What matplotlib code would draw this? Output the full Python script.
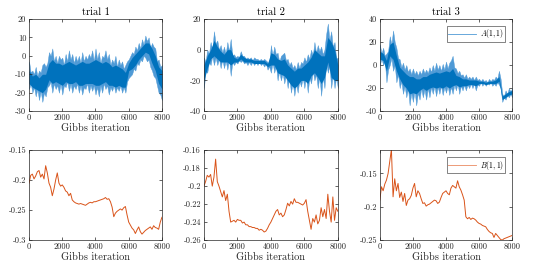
import numpy as np
import matplotlib
matplotlib.use('Agg')
import matplotlib.pyplot as plt
from matplotlib.ticker import FuncFormatter

plt.rcParams['font.family'] = ['cmr10', 'DejaVu Sans']
plt.rcParams['mathtext.fontset'] = 'cm'
plt.rcParams['axes.unicode_minus'] = False

# trace of A(1,1): outer spread of the samples (every 100 iterations)
a_iters = list(range(0, 8001, 100))
# dense core of the samples (every 200 iterations)
a_core_iters = list(range(0, 8001, 200))

a1_hi = [-3, -9, -8, -10, -6, -11, -8, -9, -5, -4,
         -6, -4, 2, 0, 4, -3, 0, -4, 0, -2,
         -1, -5, 1, -3, 3, -2, 1, -4, 0, -3,
         0, -4, 2, -3, 0, -2, 1, -1, 3, -3,
         4, -2, 2, -4, 0, -1, 3, -2, 1, -5,
         -2, -4, 0, -6, -2, -5, -3, -7, -5, -3,
         -2, 0, 2, 1, 5, 3, 7, 4, 9, 6,
         11, 8, 10, 4, 7, 5, 4, -3, -2, -6,
         -5]
a1_lo = [-18, -15, -20, -17, -22, -18, -24, -19, -25, -20,
         -22, -17, -16, -14, -20, -15, -18, -16, -20, -15,
         -21, -16, -17, -14, -19, -15, -20, -16, -18, -15,
         -20, -16, -21, -17, -18, -15, -20, -16, -19, -16,
         -21, -17, -22, -16, -20, -15, -18, -16, -21, -17,
         -19, -16, -20, -17, -19, -16, -20, -17, -20, -14,
         -12, -11, -10, -7, -8, -4, -5, -2, -3, 0,
         -1, -3, -2, -6, -8, -11, -12, -16, -20, -21,
         -24]
a1_core_hi = [-8, -11, -10, -12, -10, -10, -4, -2, -4, -4, -5, -4, -3, -4, -5,
              -4, -3, -4, -4, -3, -2, -3, -4, -3, -4, -6, -5, -6, -7, -9, -4,
              -1, 1, 3, 5, 7, 7, 4, 0, -6, -8]
a1_core_lo = [-15, -17, -18, -19, -20, -18, -13, -15, -14, -15, -16, -14, -15,
              -15, -14, -16, -16, -15, -15, -15, -16, -16, -15, -14, -16, -16,
              -17, -16, -17, -17, -8, -7, -5, -2, 0, 2, 1, -4, -8, -15, -18]

a2_hi = [-5, -8, 0, -3, 5, 0, 12, 4, 6, 0,
         3, -2, 2, -3, 5, -1, 7, -4, -3, -5,
         -4, -5, -1, -4, -4, -6, -5, -6, -5, -7,
         -5, -6, -6, -7, -6, -7, -6, -7, -8, -10,
         3, -4, 2, -3, -2, -8, -4, -3, -2, -7,
         -6, -10, -8, -12, -10, -13, -8, -12, -8, -9,
         -5, -8, -3, -6, 0, -4, 5, -2, 3, -1,
         2, -3, 0, 10, 17, 6, 12, 2, 5, -6,
         -5]
a2_lo = [-25, -14, -15, -8, -10, -4, -10, -5, -10, -6,
         -12, -6, -12, -7, -13, -6, -17, -8, -10, -8,
         -9, -7, -8, -7, -9, -8, -10, -8, -10, -8,
         -10, -8, -10, -8, -10, -9, -11, -9, -13, -11,
         -15, -8, -15, -10, -20, -14, -20, -15, -22, -16,
         -25, -18, -28, -21, -30, -22, -28, -20, -24, -18,
         -25, -17, -28, -18, -22, -14, -20, -16, -25, -17,
         -30, -18, -25, -8, -15, -10, -25, -16, -25, -18,
         -25]
a2_core_hi = [-10, -4, 0, 6, 2, -1, -3, 0, 0, -5, -6, -3, -5, -6, -6, -7, -7,
              -7, -7, -9, -2, -3, -6, -7, -6, -10, -12, -14, -12, -12, -10, -8,
              -5, 0, -2, -4, -4, 8, 5, 0, -10]
a2_core_lo = [-20, -12, -6, -4, -6, -8, -8, -8, -10, -8, -8, -6, -8, -8, -8,
              -9, -9, -9, -9, -11, -10, -10, -15, -16, -17, -20, -23, -25, -23,
              -20, -20, -22, -17, -15, -18, -22, -18, -8, -18, -20, -20]

a3_hi = [18, 10, 15, 8, 10, 12, 25, 18, 30, 20,
         15, 6, 5, -2, 2, -4, 0, -6, -3, -8,
         -3, -8, -5, -9, -5, -8, -3, -7, -4, -7,
         -2, -6, 0, -5, 2, -4, 0, -5, 1, -4,
         3, -3, 2, 4, 8, -2, -3, -7, -5, -9,
         -8, -11, -8, -12, -10, -12, -10, -13, -10, -13,
         -12, -14, -12, -14, -13, -15, -12, -14, -12, -13,
         -10, -12, -5, -12, -25, -27, -22, -25, -20, -23,
         -20]
a3_lo = [0, 6, 0, 4, -15, -4, 0, 6, -5, 0,
         -15, -8, -20, -14, -25, -18, -28, -20, -35, -24,
         -32, -22, -35, -24, -30, -20, -28, -21, -30, -20,
         -28, -19, -25, -18, -27, -19, -25, -18, -26, -19,
         -24, -18, -26, -19, -25, -17, -22, -16, -25, -18,
         -22, -17, -22, -17, -20, -16, -20, -16, -22, -17,
         -18, -15, -18, -15, -18, -16, -17, -15, -18, -16,
         -18, -15, -17, -20, -32, -28, -30, -26, -28, -25,
         -28]
a3_core_hi = [12, 10, 4, 18, 20, 8, -2, -5, -8, -10, -10, -12, -12, -10, -10,
              -8, -7, -6, -7, -6, -5, -6, -3, -9, -10, -12, -12, -13, -13, -13,
              -14, -14, -15, -14, -14, -13, -10, -27, -25, -23, -22]
a3_core_lo = [5, 4, -5, 8, 5, -5, -12, -17, -20, -25, -24, -25, -22, -20, -22,
              -20, -19, -20, -19, -20, -18, -20, -18, -17, -19, -18, -18, -17,
              -17, -18, -16, -16, -17, -16, -16, -16, -14, -30, -28, -26, -25]

# trace of B(1,1), read every 100 iterations
b_iters = list(range(0, 8001, 100))

b1 = [-0.205, -0.192, -0.19, -0.198, -0.193, -0.186, -0.184, -0.195, -0.19,
      -0.198, -0.176, -0.188, -0.205, -0.212, -0.226, -0.215, -0.2, -0.188,
      -0.205, -0.21, -0.208, -0.212, -0.218, -0.22, -0.226, -0.222, -0.233,
      -0.236, -0.238, -0.239, -0.24, -0.239, -0.24, -0.241, -0.242, -0.24,
      -0.238, -0.237, -0.238, -0.236, -0.236, -0.235, -0.234, -0.233, -0.232,
      -0.231, -0.229, -0.232, -0.231, -0.236, -0.245, -0.261, -0.255, -0.252,
      -0.25, -0.248, -0.25, -0.246, -0.244, -0.258, -0.27, -0.275, -0.28,
      -0.283, -0.289, -0.283, -0.278, -0.286, -0.29, -0.287, -0.284, -0.282,
      -0.28, -0.278, -0.282, -0.276, -0.279, -0.28, -0.282, -0.27, -0.262]

b2 = [-0.2, -0.195, -0.188, -0.19, -0.187, -0.2, -0.19, -0.17, -0.195, -0.2,
      -0.206, -0.212, -0.205, -0.216, -0.209, -0.228, -0.24, -0.239, -0.238,
      -0.24, -0.237, -0.238, -0.238, -0.241, -0.24, -0.243, -0.243, -0.245,
      -0.245, -0.246, -0.246, -0.247, -0.247, -0.249, -0.248, -0.249, -0.251,
      -0.25, -0.247, -0.243, -0.24, -0.236, -0.232, -0.228, -0.226, -0.232,
      -0.23, -0.234, -0.232, -0.226, -0.219, -0.222, -0.217, -0.22, -0.214,
      -0.218, -0.218, -0.219, -0.22, -0.221, -0.219, -0.215, -0.228, -0.238,
      -0.248, -0.236, -0.24, -0.232, -0.242, -0.238, -0.224, -0.234, -0.226,
      -0.236, -0.209, -0.228, -0.24, -0.212, -0.238, -0.224, -0.228]

b3 = [-0.19, -0.17, -0.176, -0.166, -0.16, -0.15, -0.132, -0.114, -0.185,
      -0.158, -0.176, -0.165, -0.186, -0.178, -0.192, -0.18, -0.198, -0.19,
      -0.188, -0.183, -0.172, -0.165, -0.185, -0.176, -0.18, -0.188, -0.195,
      -0.194, -0.199, -0.197, -0.196, -0.194, -0.192, -0.19, -0.191, -0.195,
      -0.193, -0.186, -0.18, -0.178, -0.176, -0.18, -0.182, -0.172, -0.168,
      -0.17, -0.172, -0.161, -0.17, -0.175, -0.182, -0.19, -0.215, -0.218,
      -0.216, -0.219, -0.217, -0.218, -0.22, -0.223, -0.225, -0.226, -0.228,
      -0.229, -0.23, -0.234, -0.237, -0.239, -0.24, -0.246, -0.24, -0.243,
      -0.246, -0.249, -0.25, -0.248, -0.247, -0.246, -0.245, -0.244, -0.243]

titles = ['trial 1', 'trial 2', 'trial 3']
blue = '#0072BD'
blue_light = '#4f9ad6'
orange = '#D95319'
orange_light = '#ea8a62'
ink = '#262626'

fig = plt.figure(figsize=(5.38, 2.71), dpi=100)

lefts = [0.054, 0.379, 0.706]
widths = [0.247, 0.249, 0.246]


def style(ax, ylim, yticks):
    ax.set_xlim(0, 8000)
    ax.set_xticks([0, 2000, 4000, 6000, 8000])
    ax.set_ylim(*ylim)
    ax.set_yticks(yticks)
    ax.yaxis.set_major_formatter(FuncFormatter(lambda v, p: '%g' % round(v, 4)))
    ax.tick_params(direction='in', top=True, right=True, length=2.5,
                   width=0.5, labelsize=6, colors=ink, pad=2)
    for s in ax.spines.values():
        s.set_linewidth(0.5)
        s.set_color(ink)
    ax.set_xlabel('Gibbs iteration', fontsize=7.5, color=ink, labelpad=1)


def add_legend(ax):
    leg = ax.legend(loc='upper right', fontsize=5.5, frameon=True,
                    fancybox=False, handlelength=3.6, borderpad=0.2,
                    handletextpad=0.5, borderaxespad=0.9)
    leg.get_frame().set_edgecolor(ink)
    leg.get_frame().set_linewidth(0.5)


top_data = [(a1_lo, a1_hi, a1_core_lo, a1_core_hi),
            (a2_lo, a2_hi, a2_core_lo, a2_core_hi),
            (a3_lo, a3_hi, a3_core_lo, a3_core_hi)]
top_lims = [(-30, 20), (-40, 20), (-40, 40)]
top_ticks = [[-30, -20, -10, 0, 10, 20], [-40, -20, 0, 20], [-40, -20, 0, 20, 40]]

for i in range(3):
    ax = fig.add_axes([lefts[i], 0.590, widths[i], 0.340])
    lo, hi, clo, chi = top_data[i]
    ax.fill_between(a_iters, lo, hi, color=blue_light, lw=0.3, edgecolor=blue_light)
    ax.fill_between(a_core_iters, clo, chi, color=blue, lw=0)
    style(ax, top_lims[i], top_ticks[i])
    ax.set_title(titles[i], fontsize=7.5, color='k', pad=3)
    if i == 2:
        ax.plot([], [], color=blue_light, lw=0.6, label='$A(1,1)$')
        add_legend(ax)

b_data = [b1, b2, b3]
b_lims = [(-0.3, -0.15), (-0.26, -0.16), (-0.25, -0.115)]
b_ticks = [[-0.3, -0.25, -0.2, -0.15], [-0.26, -0.24, -0.22, -0.2, -0.18, -0.16],
           [-0.25, -0.2, -0.15]]

for i in range(3):
    ax = fig.add_axes([lefts[i], 0.114, widths[i], 0.332])
    ax.plot(b_iters, b_data[i], color=orange, lw=0.7)
    style(ax, b_lims[i], b_ticks[i])
    if i == 2:
        ax.plot([], [], color=orange_light, lw=0.6, label='$B(1,1)$')
        add_legend(ax)

fig.savefig('out.png', dpi=100)
